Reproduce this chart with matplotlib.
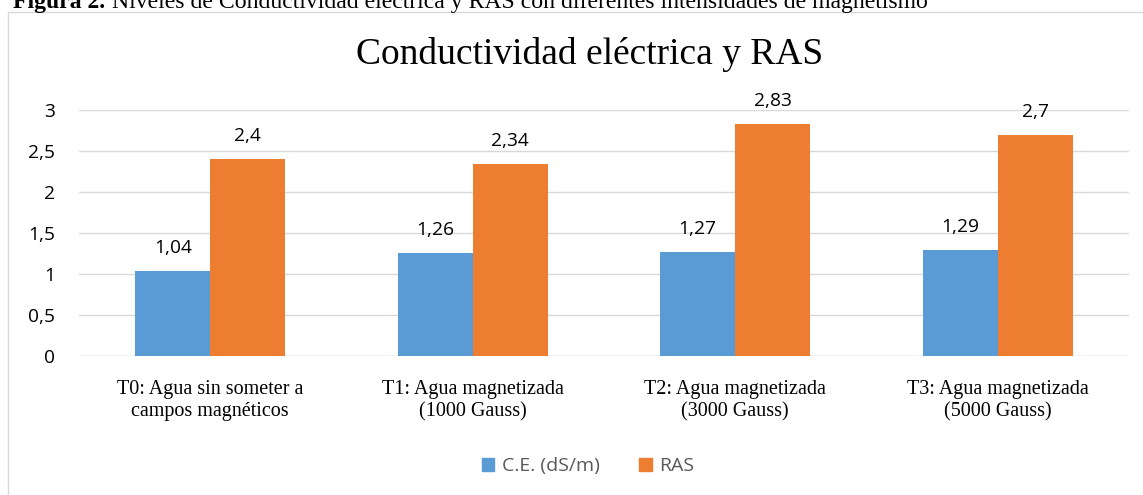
import numpy as np
import matplotlib.pyplot as plt
from matplotlib.lines import Line2D
from matplotlib.patches import Patch

categories = ["T0: Agua sin someter a\ncampos magnéticos",
              "T1: Agua magnetizada\n(1000 Gauss)",
              "T2: Agua magnetizada\n(3000 Gauss)",
              "T3: Agua magnetizada\n(5000 Gauss)"]
ce_values = [1.04, 1.26, 1.27, 1.29]
ras_values = [2.4, 2.34, 2.83, 2.7]
ce_labels = ["1,04", "1,26", "1,27", "1,29"]
ras_labels = ["2,4", "2,34", "2,83", "2,7"]
y_ticks = [0, 0.5, 1, 1.5, 2, 2.5, 3]
y_tick_labels = ["0", "0,5", "1", "1,5", "2", "2,5", "3"]

W, H = 1143, 495
fig = plt.figure(figsize=(W / 100, H / 100), dpi=100)

# marco del gráfico
fig.add_artist(Line2D([8 / W, 8 / W], [0, 1 - 12 / H], color="#d9d9d9", lw=1))
fig.add_artist(Line2D([8 / W, 1], [1 - 12 / H, 1 - 12 / H], color="#d9d9d9", lw=1))

# pie de figura (cortado arriba)
fig.text(105 / W, 1 - 8 / H, "Figura 2.", fontsize=17, fontweight="bold",
         family="Liberation Serif", va="baseline", ha="right")
fig.text(112 / W, 1 - 8 / H,
         "Niveles de Conductividad eléctrica y RAS con diferentes intensidades de magnetismo",
         fontsize=17.1, family="Liberation Serif", va="baseline", ha="left")

ax = fig.add_axes([79 / W, 1 - 356 / H, (1129 - 79) / W, (356 - 110) / H])

x = np.arange(len(categories))
w = 0.286
blue = "#5B9BD5"
orange = "#ED7D31"
b1 = ax.bar(x - w / 2, ce_values, w, color=blue, label="C.E. (dS/m)", zorder=3)
b2 = ax.bar(x + w / 2, ras_values, w, color=orange, label="RAS", zorder=3)

for bars, labs in ((b1, ce_labels), (b2, ras_labels)):
    for r, t in zip(bars, labs):
        ax.annotate(t, (r.get_x() + r.get_width() / 2, r.get_height()),
                    xytext=(0, 10), textcoords="offset points", ha="center",
                    va="bottom", fontsize=13.8, family="Open Sans", color="#000000")

ax.set_xlim(-0.5, 3.5)
ax.set_ylim(0, 3)
ax.set_yticks(y_ticks)
ax.set_yticklabels(y_tick_labels, fontsize=13.8, family="Open Sans")
ax.set_xticks(x)
ax.set_xticklabels(categories, fontsize=14.5, family="Liberation Serif", linespacing=1.27)
ax.tick_params(axis="both", length=0)
ax.tick_params(axis="y", pad=17)
ax.tick_params(axis="x", pad=17)
ax.yaxis.grid(True, color="#d9d9d9", lw=1, zorder=0)
for s in ax.spines.values():
    s.set_visible(False)
ax.axhline(0, color="#d9d9d9", lw=1, zorder=1)

fig.text(590 / W, 1 - 55 / H, "Conductividad eléctrica y RAS", fontsize=27,
         family="Liberation Serif", ha="center", va="center")

handles = [Patch(color=blue, label="C.E. (dS/m)"), Patch(color=orange, label="RAS")]
fig.legend(handles=handles, loc="center", bbox_to_anchor=(588 / W, 1 - 466 / H),
           ncol=2, frameon=False, prop={"family": "Open Sans", "size": 14},
           handlelength=0.65, handleheight=0.65, handletextpad=0.4, columnspacing=2.0,
           labelcolor="#595959")

fig.savefig("out.png", dpi=100)
